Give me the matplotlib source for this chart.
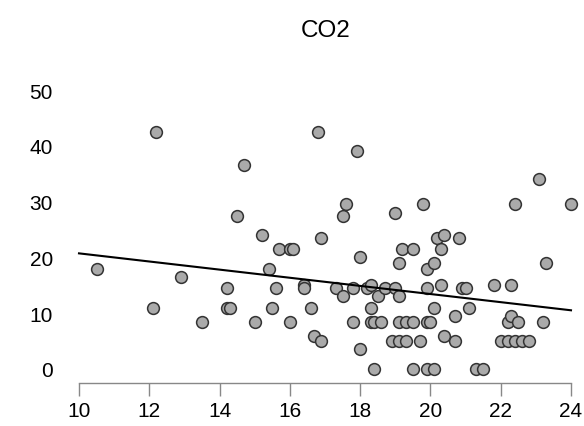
import matplotlib
matplotlib.use('Agg')
import matplotlib.pyplot as plt
import numpy as np

# data
temp = [10.5, 12.1, 12.2, 12.9, 13.5, 14.2, 14.2, 14.3, 14.5, 14.7,
        15.0, 15.2, 15.4, 15.5, 15.6, 15.7, 16.0, 16.1, 16.0, 16.4,
        16.4, 16.6, 16.7, 16.9, 16.8, 16.9, 17.3, 17.5, 17.5, 17.6,
        17.8, 17.8, 17.9, 18.0, 18.0, 18.2, 18.3, 18.3, 18.3, 18.4,
        18.6, 18.4, 18.5, 18.7, 18.9, 19.0, 19.0, 19.1, 19.1, 19.1,
        19.1, 19.2, 19.3, 19.3, 19.5, 19.5, 19.5, 19.7, 19.8, 19.9,
        19.9, 19.9, 19.9, 20.0, 20.1, 20.1, 20.1, 20.2, 20.3, 20.3,
        20.4, 20.4, 20.7, 20.7, 20.8, 20.9, 21.0, 21.1, 21.3, 21.5,
        21.8, 22.0, 22.2, 22.2, 22.3, 22.3, 22.4, 22.4, 22.5, 22.6,
        22.8, 23.1, 23.2, 23.3, 24.0]
co2 = [18, 11, 42.5, 16.5, 8.5, 14.5, 11, 11, 27.5, 36.5,
       8.5, 24, 18, 11, 14.5, 21.5, 21.5, 21.5, 8.5, 15,
       14.5, 11, 6, 5, 42.5, 23.5, 14.5, 13, 27.5, 29.5,
       14.5, 8.5, 39, 20, 3.5, 14.5, 15, 11, 8.5, 8.5,
       8.5, 0, 13, 14.5, 5, 14.5, 28, 13, 19, 8.5,
       5, 21.5, 8.5, 5, 21.5, 8.5, 0, 5, 29.5, 18,
       14.5, 8.5, 0, 8.5, 19, 11, 0, 23.5, 21.5, 15,
       24, 6, 9.5, 5, 23.5, 14.5, 14.5, 11, 0, 0,
       15, 5, 5, 8.5, 15, 9.5, 29.5, 5, 8.5, 5,
       5, 34, 8.5, 19, 29.5]

x_ticks = [10, 12, 14, 16, 18, 20, 22, 24]
y_ticks = [0, 10, 20, 30, 40, 50]
title = "CO2"

plt.rcParams['font.family'] = ['Liberation Sans', 'DejaVu Sans']

fig = plt.figure(figsize=(5.84, 4.27), dpi=100)
ax = fig.add_axes([57 / 584, 43.5 / 427, 527 / 584, 303.5 / 427])

ax.scatter(temp, co2, s=72, facecolor='#aaaaaa', edgecolor='#333333',
           linewidth=1.1, zorder=3)

# least squares fit line
slope, intercept = np.polyfit(temp, co2, 1)
xs = np.array([10, 24])
ax.plot(xs, intercept + slope * xs, color='black', lw=1.5, zorder=4)

ax.set_xlim(10 - 22 / 35.14, 24 + 13 / 35.14)
ax.set_ylim(-13.5 / 5.58, 50 + 11 / 5.58)

# y axis: labels only, no line / ticks
for s in ['top', 'right', 'left']:
    ax.spines[s].set_visible(False)
ax.spines['bottom'].set_color('#888888')
ax.spines['bottom'].set_linewidth(1.0)
ax.spines['bottom'].set_bounds(10, 24)

ax.set_xticks(x_ticks)
ax.set_yticks(y_ticks)
ax.tick_params(axis='x', length=9, width=1.0, color='#888888',
               labelsize=15, labelcolor='black', pad=4)
ax.tick_params(axis='y', length=0, labelsize=15, labelcolor='black', pad=3)

fig.text(326 / 584, 1 - 31 / 427, title, ha='center', va='center',
         fontsize=17.5)

fig.savefig('out.png', dpi=100)
